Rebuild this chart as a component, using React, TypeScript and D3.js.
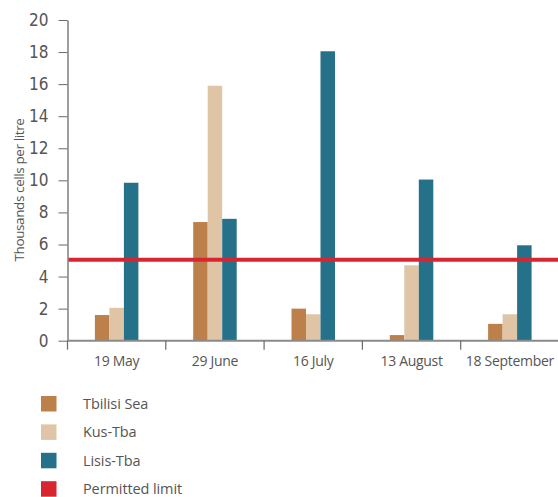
import React, { useRef, useEffect } from 'react';
import * as d3 from 'd3';

const dates = ['19 May', '29 June', '16 July', '13 August', '18 September'];
const tbilisiSea = [1.6, 7.4, 2.0, 0.35, 1.05];
const kusTba = [2.05, 15.9, 1.65, 4.7, 1.65];
const lisisTba = [9.85, 7.6, 18.05, 10.05, 5.95];
const permittedLimit = 5.05;
const yTicks = [0, 2, 4, 6, 8, 10, 12, 14, 16, 18, 20];

const seriesNames = ['Tbilisi Sea', 'Kus-Tba', 'Lisis-Tba'];
const seriesColors = ['#bd804b', '#dfc5a5', '#26718a'];
const limitColor = '#d7262f';

const App: React.FC = () => {
  const svgRef = useRef<SVGSVGElement>(null);

  useEffect(() => {
    if (!svgRef.current) return;
    const width = 558;
    const height = 497;
    const svg = d3.select(svgRef.current).attr('width', width).attr('height', height);
    svg.selectAll('*').remove();

    const margins = { top: 20, left: 67.5, right: -1, bottom: 156.3 };
    const textColor = '#555';
    const axisColor = '#6a6a6a';

    const y = d3.scaleLinear()
      .domain([0, 20])
      .range([height - margins.bottom, margins.top]);
    const x0 = d3.scaleBand<string>()
      .domain(dates)
      .range([margins.left, width - margins.right])
      .padding(0);

    const groupWidth = 43.5;
    const x1 = d3.scaleBand<string>()
      .domain(seriesNames)
      .range([0, groupWidth]);

    const allSeries = [tbilisiSea, kusTba, lisisTba];

    // bars
    dates.forEach((d, i) => {
      const offset = (x0.bandwidth() - groupWidth) / 2;
      const g = svg.append('g').attr('transform', `translate(${(x0(d) as number) + offset},0)`);
      seriesNames.forEach((s, j) => {
        const v = allSeries[j][i];
        g.append('rect')
          .attr('x', x1(s) as number)
          .attr('width', x1.bandwidth())
          .attr('y', y(v))
          .attr('height', y(0) - y(v))
          .attr('fill', seriesColors[j]);
      });
    });

    // y axis
    const yAxis = svg.append('g')
      .attr('transform', `translate(${margins.left},0)`)
      .call(d3.axisLeft(y).tickValues(yTicks).tickSize(9).tickPadding(10).tickSizeOuter(0));
    yAxis.select('.domain').attr('stroke', axisColor).attr('stroke-width', 1.3);
    yAxis.selectAll('.tick line').attr('stroke', axisColor);
    yAxis.selectAll('.tick text')
      .attr('fill', textColor)
      .style('font-family', '"Liberation Sans Narrow", "DejaVu Sans Condensed", Roboto, sans-serif')
      .style('font-size', '17px')
      .style('font-weight', '300');

    // x axis
    const xAxis = svg.append('g')
      .attr('transform', `translate(0,${y(0)})`);
    xAxis.append('line')
      .attr('x1', margins.left)
      .attr('x2', width)
      .attr('stroke', '#8a8a8a')
      .attr('stroke-width', 2);
    dates.forEach((d) => {
      xAxis.append('line')
        .attr('x1', x0(d) as number)
        .attr('x2', x0(d) as number)
        .attr('y1', 0)
        .attr('y2', 9)
        .attr('stroke', axisColor)
        .attr('stroke-width', 1.2);
      xAxis.append('text')
        .attr('x', (x0(d) as number) + x0.bandwidth() / 2)
        .attr('y', 25)
        .attr('text-anchor', 'middle')
        .attr('fill', textColor)
        .style('font-family', '"Open Sans", "Noto Sans", sans-serif')
        .style('font-size', '14px')
        .style('letter-spacing', '-0.3px')
        .text(d);
    });

    // permitted limit
    svg.append('line')
      .attr('x1', margins.left + 1)
      .attr('x2', width)
      .attr('y1', y(permittedLimit))
      .attr('y2', y(permittedLimit))
      .attr('stroke', limitColor)
      .attr('stroke-width', 4);

    // y label
    svg.append('text')
      .attr('transform', `translate(24,190) rotate(-90)`)
      .attr('text-anchor', 'middle')
      .attr('fill', textColor)
      .style('font-family', '"Open Sans", "Noto Sans", sans-serif')
      .style('font-size', '13.5px')
      .style('letter-spacing', '-0.4px')
      .text('Thousands cells per litre');

    // legend
    const legendItems = [...seriesNames, 'Permitted limit'];
    const legendColors = [...seriesColors, limitColor];
    legendItems.forEach((name, i) => {
      const ly = 396 + i * 28.4;
      svg.append('rect')
        .attr('x', 41)
        .attr('y', ly)
        .attr('width', 15.5)
        .attr('height', 15.5)
        .attr('fill', legendColors[i]);
      svg.append('text')
        .attr('x', 83)
        .attr('y', ly + 13)
        .attr('fill', textColor)
        .style('font-family', '"Open Sans", "Noto Sans", sans-serif')
        .style('font-size', '14.5px')
        .style('letter-spacing', '-0.1px')
        .text(name);
    });
  }, []);

  return (
    <div style={{ position: 'absolute', left: 0, top: 0 }}>
      <svg ref={svgRef} style={{ display: 'block', background: '#fff' }} />
    </div>
  );
};

export default App;
